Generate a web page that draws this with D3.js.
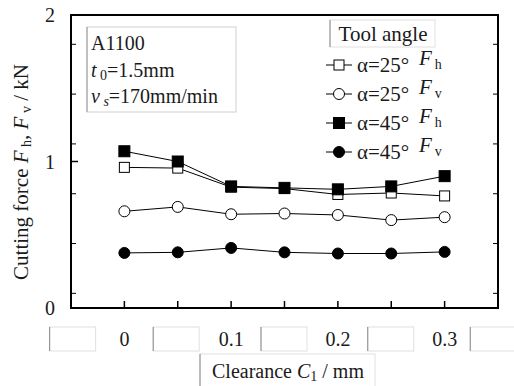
<!DOCTYPE html>
<html><head><meta charset="utf-8">
<script src="https://cdn.jsdelivr.net/npm/d3@7"></script>
<style>body{margin:0;background:#fff;}text{font-family:"Liberation Serif","DejaVu Serif","Times New Roman",serif;}</style>
</head><body><svg id="c" width="514" height="386"></svg>
<script>
const clearance = [0, 0.05, 0.1, 0.15, 0.2, 0.25, 0.3];
const fh25 = [0.96, 0.955, 0.825, 0.815, 0.775, 0.785, 0.765];
const fv25 = [0.66, 0.69, 0.64, 0.645, 0.635, 0.60, 0.62];
const fh45 = [1.07, 1.0, 0.83, 0.82, 0.81, 0.83, 0.90];
const fv45 = [0.376, 0.38, 0.41, 0.38, 0.372, 0.372, 0.383];
const xTickLabels = ["0", "0.1", "0.2", "0.3"];
const xTickLabelValues = [0, 0.1, 0.2, 0.3];
const yTickLabels = ["0", "1", "2"];
const yMinorTicks = [0.1, 0.44, 0.78, 1.12, 1.46, 1.8];
const seriesNames = ["α=25°", "α=25°", "α=45°", "α=45°"];
const seriesForce = ["h", "v", "h", "v"];

const svg = d3.select("#c");
const FF = "Liberation Serif, DejaVu Serif, serif";
const x = d3.scaleLinear().domain([-0.05, 0.35]).range([71, 498]);
const y = d3.scaleLinear().domain([0, 2]).range([308, 15]);

const series = [
  {vals: fh25, shape: "square", fill: "#fff"},
  {vals: fv25, shape: "circle", fill: "#fff"},
  {vals: fh45, shape: "square", fill: "#000"},
  {vals: fv45, shape: "circle", fill: "#000"}
];

// grey boxes under axis (artifacts)
const boxXs = [-0.07, 0.027, 0.128, 0.228, 0.324];
svg.selectAll("g.gb").data(boxXs).join("g").attr("class","gb").each(function(d){
  const g = d3.select(this);
  const x0 = x(d);
  g.append("rect").attr("x", x0).attr("y", 327).attr("width", 46).attr("height", 24)
    .attr("fill","#fff").attr("stroke","#e0e0e0").attr("stroke-width",1);
  g.append("line").attr("x1", x0).attr("x2", x0).attr("y1", 327).attr("y2", 351)
    .attr("stroke","#888").attr("stroke-width",1);
});

// frame
svg.append("rect").attr("x", x.range()[0]).attr("y", y(2)).attr("width", x.range()[1]-x.range()[0])
  .attr("height", y(0)-y(2)).attr("fill","none").attr("stroke","#000").attr("stroke-width",2);

// ticks
svg.selectAll("line.xt").data(clearance).join("line").attr("class","xt")
  .attr("x1", d=>x(d)).attr("x2", d=>x(d)).attr("y1", y(0)).attr("y2", y(0)-7)
  .attr("stroke","#000").attr("stroke-width",1.5);
svg.selectAll("line.ytl").data(yMinorTicks).join("line").attr("class","ytl")
  .attr("x1", x.range()[0]).attr("x2", x.range()[0]+5).attr("y1", d=>y(d)).attr("y2", d=>y(d))
  .attr("stroke","#000").attr("stroke-width",1);
svg.selectAll("line.ytr").data(yMinorTicks).join("line").attr("class","ytr")
  .attr("x1", x.range()[1]).attr("x2", x.range()[1]-5).attr("y1", d=>y(d)).attr("y2", d=>y(d))
  .attr("stroke","#000").attr("stroke-width",1);
svg.append("line").attr("x1", x.range()[0]).attr("x2", x.range()[0]+7).attr("y1", y(1)).attr("y2", y(1))
  .attr("stroke","#000").attr("stroke-width",1.5);

function T(sel){ return sel.attr("font-family", FF).attr("fill","#1a1a1a"); }

// y labels
T(svg.selectAll("text.yl").data(yTickLabels).join("text").attr("class","yl"))
  .attr("x", 50).attr("y", d=>y(+d)+7).attr("text-anchor","middle")
  .attr("font-size", 20).text(d=>d);
// x labels
T(svg.selectAll("text.xl").data(xTickLabels).join("text").attr("class","xl"))
  .attr("x", (d,i)=>x(xTickLabelValues[i])).attr("y", 346).attr("text-anchor","middle")
  .attr("font-size", 20).text(d=>d);

// x axis title box
svg.append("rect").attr("x",200).attr("y",354).attr("width",175).attr("height",40)
  .attr("fill","#fff").attr("stroke","#e0e0e0");
svg.append("line").attr("x1",200).attr("x2",200).attr("y1",354).attr("y2",386).attr("stroke","#888");
const xt = T(svg.append("text")).attr("x", 288).attr("y", 378).attr("text-anchor","middle").attr("font-size",20);
xt.append("tspan").text("Clearance ");
xt.append("tspan").attr("font-style","italic").text("C");
xt.append("tspan").attr("font-size",14).attr("dy",3).text("1");
xt.append("tspan").attr("dy",-3).text(" / mm");

// y axis title
const yt = T(svg.append("text")).attr("transform","translate(28,172) rotate(-90)")
  .attr("text-anchor","middle").attr("font-size",21);
yt.append("tspan").text("Cutting force  ");
yt.append("tspan").attr("font-style","italic").text("F");
yt.append("tspan").attr("font-size",14).attr("dy",3).text(" h");
yt.append("tspan").attr("dy",-3).text(", ");
yt.append("tspan").attr("font-style","italic").text("F");
yt.append("tspan").attr("font-size",14).attr("dy",3).text(" v");
yt.append("tspan").attr("dy",-3).text(" / kN");

// lines
const line = d3.line().x((d,i)=>x(clearance[i])).y(d=>y(d));
series.forEach(s=>{
  svg.append("path").attr("d", line(s.vals)).attr("fill","none").attr("stroke","#000").attr("stroke-width",1);
});
function marker(g, shape, fill, cx, cy){
  if(shape==="square"){
    const sz = fill==="#000" ? 11 : 10;
    g.append("rect").attr("x",cx-sz/2).attr("y",cy-sz/2).attr("width",sz).attr("height",sz)
      .attr("fill",fill).attr("stroke","#000").attr("stroke-width",1);
  } else {
    g.append("circle").attr("cx",cx).attr("cy",cy).attr("r",5.5)
      .attr("fill",fill).attr("stroke","#000").attr("stroke-width",1);
  }
}
series.forEach(s=>{
  const g = svg.append("g");
  s.vals.forEach((v,i)=>marker(g, s.shape, s.fill, x(clearance[i]), y(v)));
});

// info box
svg.append("rect").attr("x",87).attr("y",27).attr("width",149).attr("height",85)
  .attr("fill","#fff").attr("stroke","#d0d0d0");
svg.append("line").attr("x1",87).attr("x2",87).attr("y1",27).attr("y2",112).attr("stroke","#999");
T(svg.append("text")).attr("x",91).attr("y",50).attr("font-size",20).text("A1100");
const t0 = T(svg.append("text")).attr("x",91).attr("y",77).attr("font-size",20);
t0.append("tspan").attr("font-style","italic").text("t");
t0.append("tspan").attr("font-size",14).attr("dy",3).text(" 0");
t0.append("tspan").attr("dy",-3).text("=1.5mm");
const vs = T(svg.append("text")).attr("x",91).attr("y",103).attr("font-size",20);
vs.append("tspan").attr("font-style","italic").text("v");
vs.append("tspan").attr("font-size",14).attr("font-style","italic").attr("dy",3).text(" s");
vs.append("tspan").attr("dy",-3).text("=170mm/min");

// legend
svg.append("rect").attr("x",330).attr("y",20).attr("width",105).attr("height",27)
  .attr("fill","#fff").attr("stroke","#e0e0e0");
svg.append("line").attr("x1",330).attr("x2",330).attr("y1",20).attr("y2",47).attr("stroke","#888");
T(svg.append("text")).attr("x",383).attr("y",41).attr("text-anchor","middle").attr("font-size",21).text("Tool angle");
const rowY = [65, 94, 123, 152];
series.forEach((s,i)=>{
  const g = svg.append("g");
  const cy = rowY[i];
  g.append("line").attr("x1",326).attr("x2",352).attr("y1",cy).attr("y2",cy).attr("stroke","#000");
  marker(g, s.shape, s.fill, 339, cy);
  T(g.append("text")).attr("x",357).attr("y",cy+7).attr("font-size",21).text(seriesNames[i]);
  const ft = T(g.append("text")).attr("x",419).attr("y",cy).attr("font-size",21);
  ft.append("tspan").attr("font-style","italic").text("F");
  ft.append("tspan").attr("font-size",14).attr("dx",3).attr("dy",4).text(seriesForce[i]);
});
</script></body></html>
